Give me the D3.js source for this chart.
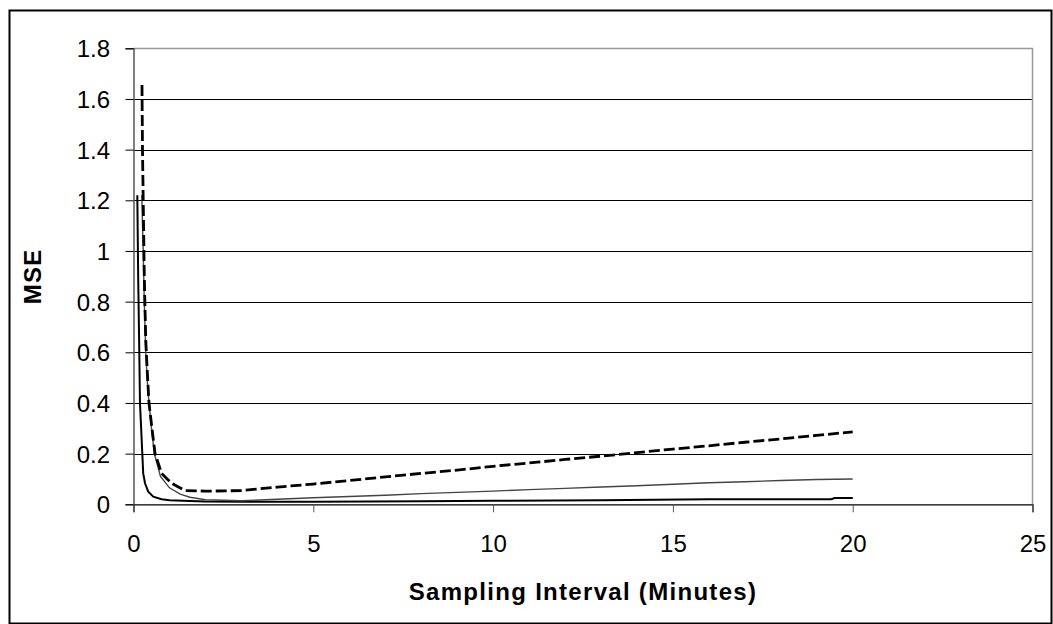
<!DOCTYPE html>
<html>
<head>
<meta charset="utf-8">
<script src="https://cdn.jsdelivr.net/npm/d3@7"></script>
<style>
  html, body { margin: 0; padding: 0; background: #fff; }
  svg { display: block; font-family: "Liberation Sans", Arial, sans-serif; }
</style>
</head>
<body>
<svg id="chart" width="1053" height="624"></svg>
<script>
// Sampling interval (minutes) and mean squared error for three reconstructions
const dashedX = [0.236, 0.25, 0.27, 0.30, 0.34, 0.385, 0.43, 0.53, 0.60, 0.78, 1.06, 1.43, 2, 3, 4, 5, 6, 7, 8, 9, 10, 11, 12, 13, 14, 15, 16, 17, 18, 19, 20];
const dashedY = [1.655, 1.40, 1.20, 0.90, 0.65, 0.52, 0.40, 0.28, 0.20, 0.122, 0.083, 0.054, 0.052, 0.054, 0.068, 0.080, 0.094, 0.108, 0.122, 0.135, 0.150, 0.163, 0.177, 0.190, 0.204, 0.218, 0.231, 0.245, 0.258, 0.272, 0.286];

const grayX = [0.23, 0.27, 0.30, 0.34, 0.40, 0.50, 0.58, 0.75, 1.0, 1.3, 1.57, 2, 3, 4, 5, 6, 7, 8, 9, 10, 11, 12, 13, 14, 15, 16, 17, 18, 19, 20];
const grayY = [1.22, 1.00, 0.80, 0.60, 0.45, 0.30, 0.20, 0.11, 0.065, 0.040, 0.028, 0.018, 0.014, 0.020, 0.026, 0.031, 0.036, 0.042, 0.047, 0.052, 0.058, 0.063, 0.068, 0.073, 0.079, 0.085, 0.089, 0.094, 0.098, 0.100];

const blackX = [0.106, 0.13, 0.16, 0.18, 0.245, 0.27, 0.32, 0.41, 0.55, 0.78, 1.0, 1.57, 2, 3, 5, 8, 10, 13, 16, 19.4, 19.5, 20];
const blackY = [1.22, 0.90, 0.61, 0.40, 0.20, 0.122, 0.083, 0.050, 0.030, 0.020, 0.016, 0.013, 0.011, 0.010, 0.010, 0.012, 0.014, 0.016, 0.020, 0.020, 0.025, 0.025];

const xTicks = [0, 5, 10, 15, 20, 25];
const yTicks = [0, 0.2, 0.4, 0.6, 0.8, 1, 1.2, 1.4, 1.6, 1.8];

const svg = d3.select("#chart");
const plotLeft = 133.5, plotRight = 1032.5, plotTop = 48.3, plotBottom = 504.3;

const x = d3.scaleLinear().domain([0, 25]).range([plotLeft, plotRight]);
const y = d3.scaleLinear().domain([0, 1.8]).range([plotBottom, plotTop]);

// outer frame
svg.append("rect")
  .attr("x", 9.5).attr("y", 10.5).attr("width", 1042).attr("height", 613)
  .attr("fill", "none").attr("stroke", "#000").attr("stroke-width", 2);

// horizontal gridlines
svg.append("g").selectAll("line")
  .data(yTicks.filter(d => d > 0 && d < 1.8))
  .join("line")
  .attr("x1", plotLeft).attr("x2", plotRight)
  .attr("y1", d => Math.round(y(d)) + 0.5).attr("y2", d => Math.round(y(d)) + 0.5)
  .attr("stroke", "#000").attr("stroke-width", 1);

// plot area border (top and right)
svg.append("path")
  .attr("d", `M${plotLeft},${Math.round(plotTop) + 0.5}H${plotRight}V${plotBottom}`)
  .attr("fill", "none").attr("stroke", "#999").attr("stroke-width", 1.5);

// y axis
const yAxis = d3.axisLeft(y).tickValues(yTicks).tickSize(8).tickFormat(d3.format("~g"));
const gy = svg.append("g").attr("transform", `translate(${plotLeft},0)`).call(yAxis);
gy.select(".domain").attr("stroke", "#555").attr("stroke-width", 1.5);
gy.selectAll(".tick line").attr("stroke", "#000");
gy.selectAll(".tick text").attr("x", -23.5).attr("dy", "0.36em")
  .attr("font-size", 24).attr("font-family", "Liberation Sans, Arial, sans-serif").attr("fill", "#000");

// x axis
const xAxis = d3.axisBottom(x).tickValues(xTicks).tickSize(8).tickFormat(d3.format("d"));
const gx = svg.append("g").attr("transform", `translate(0,${plotBottom})`).call(xAxis);
gx.select(".domain").attr("stroke", "#000").attr("stroke-width", 1.2);
gx.selectAll(".tick line").attr("stroke", "#555");
gx.selectAll(".tick text").attr("y", 48).attr("dy", 0)
  .attr("font-size", 24).attr("font-family", "Liberation Sans, Arial, sans-serif").attr("fill", "#000");

// series
const line = d3.line().x(d => x(d[0])).y(d => y(d[1]));
const zip = (xs, ys) => xs.map((v, i) => [v, ys[i]]);

svg.append("path").datum(zip(blackX, blackY))
  .attr("d", line).attr("fill", "none").attr("stroke", "#000").attr("stroke-width", 2);
svg.append("path").datum(zip(grayX, grayY))
  .attr("d", line).attr("fill", "none").attr("stroke", "#444").attr("stroke-width", 1.4);
svg.append("path").datum(zip(dashedX, dashedY))
  .attr("d", line).attr("fill", "none").attr("stroke", "#000").attr("stroke-width", 2.8)
  .attr("stroke-dasharray", "11,4");

// axis titles
svg.append("text")
  .attr("x", (plotLeft + plotRight) / 2).attr("y", 600)
  .attr("text-anchor", "middle").attr("font-size", 24).attr("font-weight", "bold")
  .attr("letter-spacing", "1.3px")
  .text("Sampling Interval (Minutes)");

svg.append("text")
  .attr("transform", `translate(41,${(plotTop + plotBottom) / 2}) rotate(-90)`)
  .attr("text-anchor", "middle").attr("font-size", 24).attr("font-weight", "bold")
  .attr("letter-spacing", "1.3px")
  .text("MSE");
</script>
</body>
</html>
